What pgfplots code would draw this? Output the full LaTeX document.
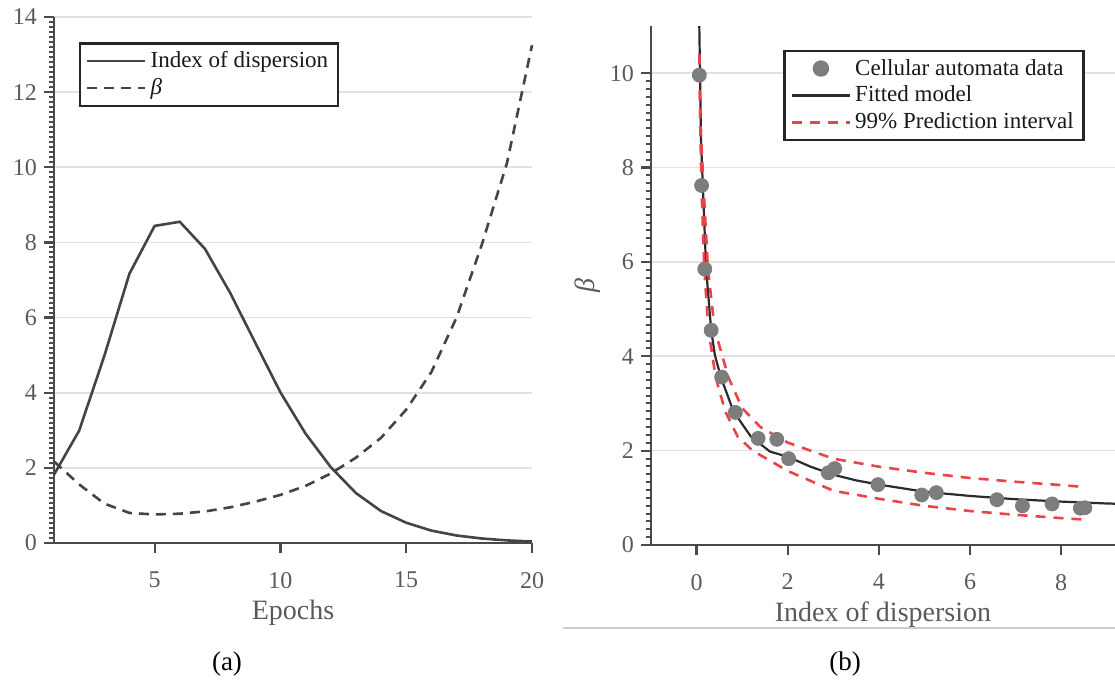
\documentclass[border=0pt]{standalone}
\usepackage{fontspec}
\setmainfont{Liberation Serif}
\usepackage{pgfplots}
\pgfplotsset{compat=1.18}
\definecolor{axisgray}{HTML}{4A4A4A}
\definecolor{textgray}{HTML}{5A5A5A}
\definecolor{curvegray}{HTML}{444444}
\definecolor{gridgray}{HTML}{E2E2E2}
\definecolor{markgray}{HTML}{7D7D7D}
\definecolor{fitblack}{HTML}{2B2B2B}
\definecolor{predred}{HTML}{E8454A}
\pgfplotsset{
  mystyle/.style={
    scale only axis,
    axis x line=bottom, axis y line=left,
    axis line style={-, line width=1.4bp, draw=axisgray},
    xtick align=outside, ytick align=outside,
    xtick pos=left, ytick pos=left,
    major tick length=5bp, minor tick length=2.5bp,
    every tick/.style={line width=1.1bp, draw=axisgray},
    major tick style={line width=1.1bp, draw=axisgray},
    minor tick style={line width=1bp, draw=axisgray},
    yminorticks=true,
    ymajorgrids,
    major grid style={line width=0.8bp, draw=gridgray},
    tick label style={font=\fontsize{12bp}{14bp}\selectfont, text=textgray},
    xticklabel style={yshift=-6bp},
    /pgf/number format/assume math mode=true,
    label style={font=\fontsize{14bp}{16bp}\selectfont, text=textgray},
    xlabel style={at={(axis description cs:0.5,0)}, anchor=center, yshift=-35bp},
    legend style={draw=black!85, line width=1.2bp, fill=white,
      font=\fontsize{11.5bp}{13bp}\selectfont, text=black!90},
    legend cell align=left,
    legend image code/.code={\draw[mark repeat=2,mark phase=2,##1] plot coordinates {(0bp,0bp) (14.5bp,0bp) (29bp,0bp)};},
  }
}
\begin{document}
\begin{tikzpicture}
\path[use as bounding box] (0,0) rectangle (557.5bp,-341bp);
% ---------- (a) ----------
\begin{axis}[mystyle,
  at={(27bp,-271.5bp)}, anchor=south west,
  width=239bp, height=263bp,
  xmin=1, xmax=20, ymin=0, ymax=14,
  xtick={5,10,15,20}, ytick={0,2,...,14},
  minor y tick num=14,
  xlabel={Epochs},
  clip=false,
  legend style={at={(0.052,0.952)}, anchor=north west},
]
\addplot[curvegray, line width=1.3bp] coordinates {
(1,1.82) (2,2.99) (3,4.98) (4,7.17) (5,8.44) (6,8.55) (7,7.83) (8,6.66) (9,5.33) (10,4.01)
(11,2.91) (12,2.02) (13,1.33) (14,0.85) (15,0.54) (16,0.33) (17,0.20) (18,0.12) (19,0.07) (20,0.04)};
\addlegendentry{Index of dispersion}
\addplot[curvegray, line width=1.3bp, dash pattern=on 5bp off 3.5bp] coordinates {
(1,2.17) (2,1.56) (3,1.05) (4,0.80) (5,0.76) (6,0.78) (7,0.84) (8,0.95) (9,1.10) (10,1.28)
(11,1.52) (12,1.85) (13,2.27) (14,2.80) (15,3.55) (16,4.55) (17,6.00) (18,7.93) (19,10.10) (20,13.25)};
\addlegendentry{\itshape β}
\pgfplotsinvokeforeach{0,2,...,14}{\draw[axisgray, line width=1.1bp] (axis cs:1,#1) -- ([xshift=-5bp]axis cs:1,#1);}
\pgfplotsinvokeforeach{0.13333,0.26667,...,13.9}{\draw[axisgray, line width=1bp] (axis cs:1,#1) -- ([xshift=-2.5bp]axis cs:1,#1);}
\pgfplotsinvokeforeach{5,10,15,20}{\draw[axisgray, line width=1.1bp] (axis cs:#1,0) -- ([yshift=-5bp]axis cs:#1,0);}
\end{axis}
% ---------- (b) ----------
\begin{axis}[mystyle,
  at={(325.5bp,-272.5bp)}, anchor=south west,
  width=232bp, height=259.5bp,
  xmin=-1, xmax=9.18, ymin=0, ymax=11,
  xtick={0,2,...,8}, ytick={0,2,...,10},
  minor y tick num=11,
  xlabel={Index of dispersion},
  ylabel={\itshape β},
  ylabel style={at={(axis description cs:0,0.5)}, anchor=center, yshift=31.5bp},
  legend style={at={(0.935,0.954)}, anchor=north east},
]
\addplot[only marks, mark=*, mark size=3.5bp, mark options={fill=markgray, draw=markgray}] coordinates {
(0.06,9.96) (0.11,7.62) (0.18,5.85) (0.32,4.55) (0.55,3.56) (0.85,2.81) (1.35,2.26) (1.76,2.24)
(2.02,1.83) (2.89,1.53) (3.03,1.62) (3.98,1.28) (4.94,1.06) (5.26,1.11) (6.59,0.96) (7.15,0.83)
(7.80,0.87) (8.42,0.78) (8.52,0.79)};
\addlegendentry{Cellular automata data}
\addplot[fitblack, line width=1.1bp] coordinates {
(0.060,11.0) (0.075,10.0) (0.10,8.5) (0.136,7.64) (0.21,5.84) (0.32,4.56) (0.40,4.03) (0.535,3.55)
(0.81,2.83) (1.19,2.30) (1.61,1.98) (2,1.87) (2.5,1.66) (3,1.49) (3.5,1.37) (4,1.28) (5,1.13) (6,1.04)
(7,0.97) (8,0.92) (9,0.88) (9.2,0.875)};
\addlegendentry{Fitted model}
\addplot[predred, line width=1.3bp, dash pattern=on 5bp off 4bp] coordinates {
(0.06,10.4) (0.08,9.0) (0.15,7.64) (0.25,5.84) (0.40,4.56) (0.70,3.55) (1.0,2.9) (1.4,2.5)
(2,2.17) (3,1.83) (4,1.66) (5,1.53) (6,1.42) (7,1.34) (8,1.27) (8.5,1.23)};
\addlegendentry{99\% Prediction interval}
\addplot[predred, line width=1.3bp, dash pattern=on 5bp off 4bp, forget plot] coordinates {
(0.06,10.4) (0.08,9.0) (0.106,7.64) (0.17,5.84) (0.26,4.56) (0.42,3.55) (0.63,2.83) (0.9,2.3)
(1.23,2.0) (2,1.57) (3,1.15) (4,0.98) (5,0.83) (6,0.72) (7,0.64) (8,0.57) (8.5,0.54)};
\end{axis}
\draw[black!20, line width=0.6bp] (281.5bp,-314bp) -- (557.5bp,-314bp);
\node[font=\fontsize{13.5bp}{16bp}\selectfont] at (113.5bp,-332bp) {(a)};
\node[font=\fontsize{13.5bp}{16bp}\selectfont] at (422.5bp,-332bp) {(b)};
\end{tikzpicture}
\end{document}
